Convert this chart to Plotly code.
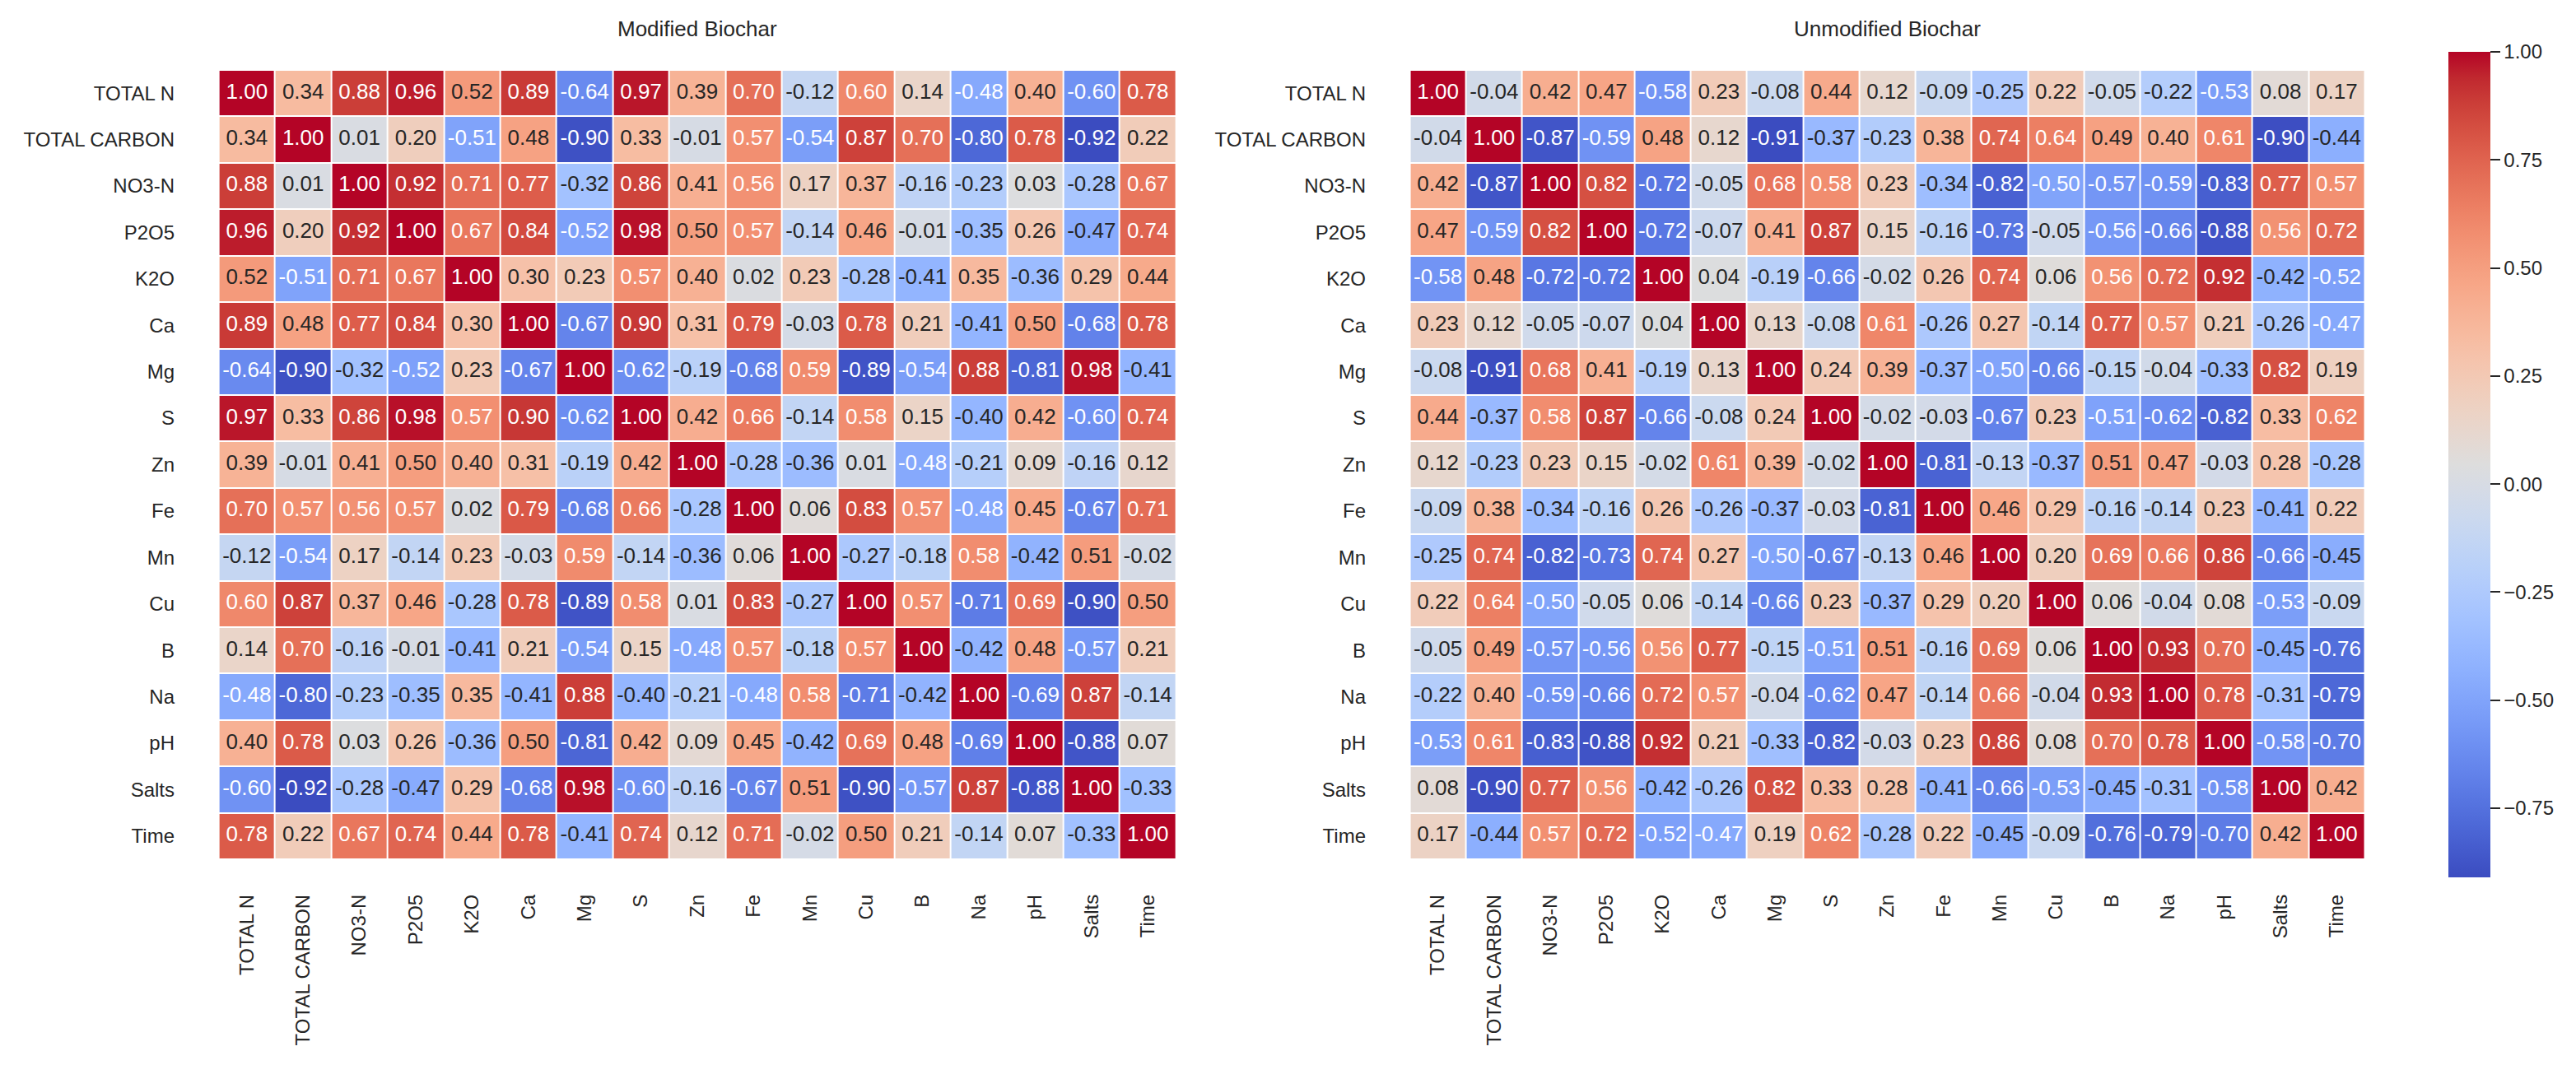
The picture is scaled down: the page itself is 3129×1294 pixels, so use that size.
import plotly.graph_objects as go

labels = ["TOTAL N", "TOTAL CARBON", "NO3-N", "P2O5", "K2O", "Ca", "Mg", "S", "Zn",
          "Fe", "Mn", "Cu", "B", "Na", "pH", "Salts", "Time"]

modified_corr = [
    [1.00, 0.34, 0.88, 0.96, 0.52, 0.89, -0.64, 0.97, 0.39, 0.70, -0.12, 0.60, 0.14, -0.48, 0.40, -0.60, 0.78],
    [0.34, 1.00, 0.01, 0.20, -0.51, 0.48, -0.90, 0.33, -0.01, 0.57, -0.54, 0.87, 0.70, -0.80, 0.78, -0.92, 0.22],
    [0.88, 0.01, 1.00, 0.92, 0.71, 0.77, -0.32, 0.86, 0.41, 0.56, 0.17, 0.37, -0.16, -0.23, 0.03, -0.28, 0.67],
    [0.96, 0.20, 0.92, 1.00, 0.67, 0.84, -0.52, 0.98, 0.50, 0.57, -0.14, 0.46, -0.01, -0.35, 0.26, -0.47, 0.74],
    [0.52, -0.51, 0.71, 0.67, 1.00, 0.30, 0.23, 0.57, 0.40, 0.02, 0.23, -0.28, -0.41, 0.35, -0.36, 0.29, 0.44],
    [0.89, 0.48, 0.77, 0.84, 0.30, 1.00, -0.67, 0.90, 0.31, 0.79, -0.03, 0.78, 0.21, -0.41, 0.50, -0.68, 0.78],
    [-0.64, -0.90, -0.32, -0.52, 0.23, -0.67, 1.00, -0.62, -0.19, -0.68, 0.59, -0.89, -0.54, 0.88, -0.81, 0.98, -0.41],
    [0.97, 0.33, 0.86, 0.98, 0.57, 0.90, -0.62, 1.00, 0.42, 0.66, -0.14, 0.58, 0.15, -0.40, 0.42, -0.60, 0.74],
    [0.39, -0.01, 0.41, 0.50, 0.40, 0.31, -0.19, 0.42, 1.00, -0.28, -0.36, 0.01, -0.48, -0.21, 0.09, -0.16, 0.12],
    [0.70, 0.57, 0.56, 0.57, 0.02, 0.79, -0.68, 0.66, -0.28, 1.00, 0.06, 0.83, 0.57, -0.48, 0.45, -0.67, 0.71],
    [-0.12, -0.54, 0.17, -0.14, 0.23, -0.03, 0.59, -0.14, -0.36, 0.06, 1.00, -0.27, -0.18, 0.58, -0.42, 0.51, -0.02],
    [0.60, 0.87, 0.37, 0.46, -0.28, 0.78, -0.89, 0.58, 0.01, 0.83, -0.27, 1.00, 0.57, -0.71, 0.69, -0.90, 0.50],
    [0.14, 0.70, -0.16, -0.01, -0.41, 0.21, -0.54, 0.15, -0.48, 0.57, -0.18, 0.57, 1.00, -0.42, 0.48, -0.57, 0.21],
    [-0.48, -0.80, -0.23, -0.35, 0.35, -0.41, 0.88, -0.40, -0.21, -0.48, 0.58, -0.71, -0.42, 1.00, -0.69, 0.87, -0.14],
    [0.40, 0.78, 0.03, 0.26, -0.36, 0.50, -0.81, 0.42, 0.09, 0.45, -0.42, 0.69, 0.48, -0.69, 1.00, -0.88, 0.07],
    [-0.60, -0.92, -0.28, -0.47, 0.29, -0.68, 0.98, -0.60, -0.16, -0.67, 0.51, -0.90, -0.57, 0.87, -0.88, 1.00, -0.33],
    [0.78, 0.22, 0.67, 0.74, 0.44, 0.78, -0.41, 0.74, 0.12, 0.71, -0.02, 0.50, 0.21, -0.14, 0.07, -0.33, 1.00],
]

unmodified_corr = [
    [1.00, -0.04, 0.42, 0.47, -0.58, 0.23, -0.08, 0.44, 0.12, -0.09, -0.25, 0.22, -0.05, -0.22, -0.53, 0.08, 0.17],
    [-0.04, 1.00, -0.87, -0.59, 0.48, 0.12, -0.91, -0.37, -0.23, 0.38, 0.74, 0.64, 0.49, 0.40, 0.61, -0.90, -0.44],
    [0.42, -0.87, 1.00, 0.82, -0.72, -0.05, 0.68, 0.58, 0.23, -0.34, -0.82, -0.50, -0.57, -0.59, -0.83, 0.77, 0.57],
    [0.47, -0.59, 0.82, 1.00, -0.72, -0.07, 0.41, 0.87, 0.15, -0.16, -0.73, -0.05, -0.56, -0.66, -0.88, 0.56, 0.72],
    [-0.58, 0.48, -0.72, -0.72, 1.00, 0.04, -0.19, -0.66, -0.02, 0.26, 0.74, 0.06, 0.56, 0.72, 0.92, -0.42, -0.52],
    [0.23, 0.12, -0.05, -0.07, 0.04, 1.00, 0.13, -0.08, 0.61, -0.26, 0.27, -0.14, 0.77, 0.57, 0.21, -0.26, -0.47],
    [-0.08, -0.91, 0.68, 0.41, -0.19, 0.13, 1.00, 0.24, 0.39, -0.37, -0.50, -0.66, -0.15, -0.04, -0.33, 0.82, 0.19],
    [0.44, -0.37, 0.58, 0.87, -0.66, -0.08, 0.24, 1.00, -0.02, -0.03, -0.67, 0.23, -0.51, -0.62, -0.82, 0.33, 0.62],
    [0.12, -0.23, 0.23, 0.15, -0.02, 0.61, 0.39, -0.02, 1.00, -0.81, -0.13, -0.37, 0.51, 0.47, -0.03, 0.28, -0.28],
    [-0.09, 0.38, -0.34, -0.16, 0.26, -0.26, -0.37, -0.03, -0.81, 1.00, 0.46, 0.29, -0.16, -0.14, 0.23, -0.41, 0.22],
    [-0.25, 0.74, -0.82, -0.73, 0.74, 0.27, -0.50, -0.67, -0.13, 0.46, 1.00, 0.20, 0.69, 0.66, 0.86, -0.66, -0.45],
    [0.22, 0.64, -0.50, -0.05, 0.06, -0.14, -0.66, 0.23, -0.37, 0.29, 0.20, 1.00, 0.06, -0.04, 0.08, -0.53, -0.09],
    [-0.05, 0.49, -0.57, -0.56, 0.56, 0.77, -0.15, -0.51, 0.51, -0.16, 0.69, 0.06, 1.00, 0.93, 0.70, -0.45, -0.76],
    [-0.22, 0.40, -0.59, -0.66, 0.72, 0.57, -0.04, -0.62, 0.47, -0.14, 0.66, -0.04, 0.93, 1.00, 0.78, -0.31, -0.79],
    [-0.53, 0.61, -0.83, -0.88, 0.92, 0.21, -0.33, -0.82, -0.03, 0.23, 0.86, 0.08, 0.70, 0.78, 1.00, -0.58, -0.70],
    [0.08, -0.90, 0.77, 0.56, -0.42, -0.26, 0.82, 0.33, 0.28, -0.41, -0.66, -0.53, -0.45, -0.31, -0.58, 1.00, 0.42],
    [0.17, -0.44, 0.57, 0.72, -0.52, -0.47, 0.19, 0.62, -0.28, 0.22, -0.45, -0.09, -0.76, -0.79, -0.70, 0.42, 1.00],
]

panel_titles = ["Modified Biochar", "Unmodified Biochar"]
colorbar_ticks = [1.0, 0.75, 0.5, 0.25, 0.0, -0.25, -0.5, -0.75]

# matplotlib "coolwarm" colormap samples
COOLWARM = [
    (0.0, (59, 76, 192)), (0.03125, (68, 90, 204)), (0.0625, (77, 104, 215)),
    (0.09375, (87, 117, 225)), (0.125, (98, 130, 234)), (0.15625, (108, 142, 241)),
    (0.1875, (119, 154, 247)), (0.21875, (130, 165, 251)), (0.25, (141, 176, 254)),
    (0.28125, (152, 185, 255)), (0.3125, (163, 194, 255)), (0.34375, (174, 201, 253)),
    (0.375, (184, 208, 249)), (0.40625, (194, 213, 244)), (0.4375, (204, 217, 238)),
    (0.46875, (213, 219, 230)), (0.5, (221, 221, 221)), (0.53125, (229, 216, 209)),
    (0.5625, (236, 211, 197)), (0.59375, (241, 204, 185)), (0.625, (245, 196, 173)),
    (0.65625, (247, 187, 160)), (0.6875, (247, 177, 148)), (0.71875, (247, 166, 135)),
    (0.75, (244, 154, 123)), (0.78125, (241, 141, 111)), (0.8125, (236, 127, 99)),
    (0.84375, (229, 112, 88)), (0.875, (222, 96, 77)), (0.90625, (213, 80, 66)),
    (0.9375, (203, 62, 56)), (0.96875, (192, 40, 47)), (1.0, (180, 4, 38)),
]
colorscale = [[p, "rgb(%d,%d,%d)" % c] for p, c in COOLWARM]


def cw_color(t):
    t = min(max(t, 0.0), 1.0)
    for (p0, c0), (p1, c1) in zip(COOLWARM[:-1], COOLWARM[1:]):
        if t <= p1:
            f = (t - p0) / (p1 - p0) if p1 > p0 else 0
            return tuple(c0[i] + f * (c1[i] - c0[i]) for i in range(3))
    return COOLWARM[-1][1]


def rel_lum(rgb):
    def lin(v):
        v = v / 255.0
        return v / 12.92 if v <= 0.03928 else ((v + 0.055) / 1.055) ** 2.4
    r, g, b = (lin(v) for v in rgb)
    return 0.2126 * r + 0.7152 * g + 0.0722 * b


W, H = 3129, 1294
FONT = "Arial, 'Liberation Sans', Helvetica, sans-serif"
DARK = "#262626"

# panel pixel extents (layout)
panels = [
    dict(z=modified_corr, xa="x", ya="y", px=(231, 1447), cbar=False),
    dict(z=unmodified_corr, xa="x2", ya="y2", px=(1678, 2891), cbar=True),
]
top_px, bot_px = 55, 1058
ydom = [1 - bot_px / H, 1 - top_px / H]

fig = go.Figure()
for k, pnl in enumerate(panels):
    z = pnl["z"]
    flat = [v for row in z for v in row]
    vmin, vmax = min(flat), max(flat)
    hm = dict(
        z=z, x=labels, y=labels, colorscale=colorscale, zmin=vmin, zmax=vmax,
        xgap=2, ygap=2, xaxis=pnl["xa"], yaxis=pnl["ya"], showscale=pnl["cbar"],
        hoverinfo="skip",
    )
    if pnl["cbar"]:
        hm["colorbar"] = dict(
            x=2966 / W, xanchor="left", xpad=0, thickness=51, thicknessmode="pixels",
            len=bot_px - top_px, lenmode="pixels", y=1 - (top_px + bot_px) / 2 / H,
            yanchor="middle", ypad=0, outlinewidth=0,
            tickvals=colorbar_ticks, tickformat=".2f", ticks="outside", ticklen=12,
            tickwidth=2, tickcolor=DARK,
            tickfont=dict(family=FONT, size=24, color=DARK),
        )
    fig.add_trace(go.Heatmap(**hm))

    xs, ys, txt, cols = [], [], [], []
    for i, rl in enumerate(labels):
        for j, cl in enumerate(labels):
            v = z[i][j]
            rgb = cw_color((v - vmin) / (vmax - vmin))
            xs.append(cl)
            ys.append(rl)
            txt.append(f"{v:.2f}")
            cols.append(DARK if rel_lum(rgb) > 0.408 else "white")
    fig.add_trace(go.Scatter(
        x=xs, y=ys, text=txt, mode="text", xaxis=pnl["xa"], yaxis=pnl["ya"],
        textfont=dict(family=FONT, size=26, color=cols), showlegend=False,
        hoverinfo="skip",
    ))

    x0, x1 = pnl["px"]
    suffix = "" if k == 0 else "2"
    fig.layout["xaxis" + suffix] = dict(
        domain=[x0 / W, x1 / W], anchor="y" + suffix, showgrid=False, zeroline=False,
        showline=False, ticks="", tickangle=-90, ticklabelstandoff=15,
        tickfont=dict(family=FONT, size=24, color=DARK), type="category",
    )
    fig.layout["yaxis" + suffix] = dict(
        domain=ydom, anchor="x" + suffix, showgrid=False, zeroline=False,
        showline=False, ticks="", autorange="reversed", ticklabelstandoff=26,
        tickfont=dict(family=FONT, size=24, color=DARK), type="category",
    )
    fig.add_annotation(
        text=panel_titles[k], xref="paper", yref="paper",
        x=(x0 + x1) / 2 / W, y=1 - 27 / H, xanchor="center", yanchor="middle",
        showarrow=False, font=dict(family=FONT, size=26, color=DARK),
    )

fig.update_layout(
    width=W, height=H, margin=dict(l=0, r=0, t=0, b=0),
    paper_bgcolor="white", plot_bgcolor="white", showlegend=False,
)

fig.write_html("out.html")
